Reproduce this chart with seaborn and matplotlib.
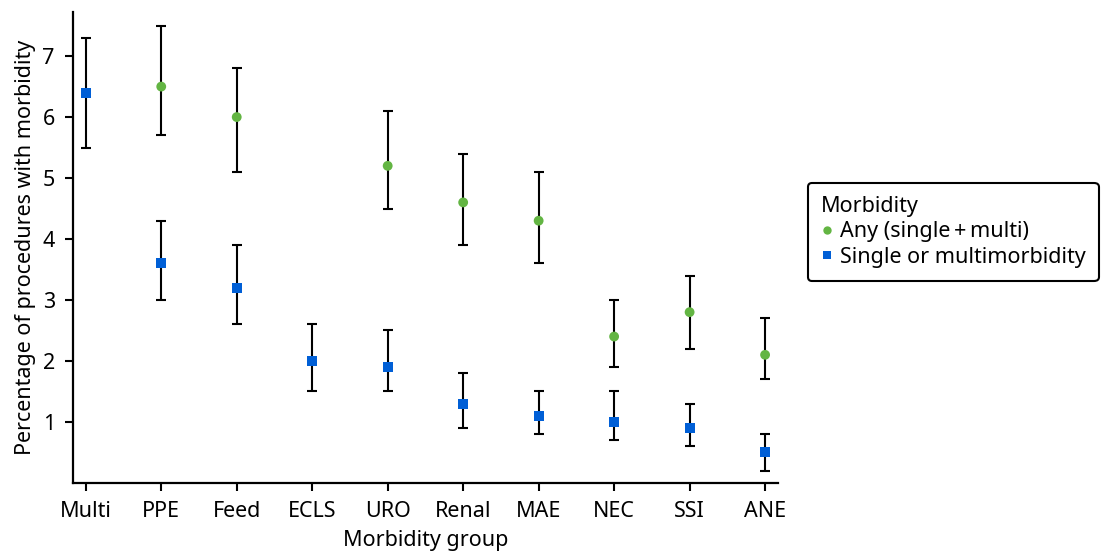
import matplotlib
matplotlib.use("Agg")
import matplotlib.pyplot as plt
import seaborn as sns
import pandas as pd

groups = ["Multi", "PPE", "Feed", "ECLS", "URO", "Renal", "MAE", "NEC", "SSI", "ANE"]

# Any morbidity (single + multi); no estimate for Multi and ECLS
any_groups = ["PPE", "Feed", "URO", "Renal", "MAE", "NEC", "SSI", "ANE"]
any_est = [6.5, 6.0, 5.2, 4.6, 4.3, 2.4, 2.8, 2.1]
any_lo = [5.7, 5.1, 4.5, 3.9, 3.6, 1.9, 2.2, 1.7]
any_hi = [7.5, 6.8, 6.1, 5.4, 5.1, 3.0, 3.4, 2.7]

# Single or multimorbidity
single_groups = ["Multi", "PPE", "Feed", "ECLS", "URO", "Renal", "MAE", "NEC", "SSI", "ANE"]
single_est = [6.4, 3.6, 3.2, 2.0, 1.9, 1.3, 1.1, 1.0, 0.9, 0.5]
single_lo = [5.5, 3.0, 2.6, 1.5, 1.5, 0.9, 0.8, 0.7, 0.6, 0.2]
single_hi = [7.3, 4.3, 3.9, 2.6, 2.5, 1.8, 1.5, 1.5, 1.3, 0.8]

any_label = "Any (single\u2009+\u2009multi)"
single_label = "Single or multimorbidity"

df = pd.concat([
    pd.DataFrame({"group": any_groups, "pct": any_est, "lo": any_lo, "hi": any_hi,
                  "Morbidity": any_label}),
    pd.DataFrame({"group": single_groups, "pct": single_est, "lo": single_lo, "hi": single_hi,
                  "Morbidity": single_label}),
], ignore_index=True)
df["x"] = df["group"].map({g: i for i, g in enumerate(groups)})

sns.set_style("ticks")
plt.rcParams["font.family"] = ["Noto Sans", "DejaVu Sans"]
plt.rcParams["text.color"] = "black"
plt.rcParams["axes.labelcolor"] = "black"

green = "#63b543"
blue = "#005fd6"
fs = 15.5

fig = plt.figure(figsize=(11.05, 5.55), dpi=100)
ax = fig.add_axes([0.066, 0.13, 0.638, 0.848])

# confidence intervals
ax.errorbar(df["x"], df["pct"],
            yerr=[df["pct"] - df["lo"], df["hi"] - df["pct"]],
            fmt="none", ecolor="black", elinewidth=1.5, capsize=3.6, capthick=1.5, zorder=2)

sns.scatterplot(data=df, x="x", y="pct", hue="Morbidity", style="Morbidity",
                hue_order=[any_label, single_label], style_order=[any_label, single_label],
                palette=[green, blue], markers={any_label: "o", single_label: "s"},
                s=50, linewidth=0, ax=ax, zorder=3)

ax.set_xlim(-0.17, 9.17)
ax.set_ylim(0, 7.72)
ax.set_xticks(range(len(groups)))
ax.set_xticklabels(groups)
ax.set_yticks([1, 2, 3, 4, 5, 6, 7])
ax.set_xlabel("Morbidity group", fontsize=fs, labelpad=6)
ax.set_ylabel("Percentage of procedures with morbidity", fontsize=fs, labelpad=5)
ax.tick_params(axis="both", labelsize=fs, length=6, width=1.5, color="black", labelcolor="black")
ax.tick_params(axis="x", pad=7)
ax.tick_params(axis="y", pad=7)
for side in ("left", "bottom"):
    ax.spines[side].set_linewidth(1.6)
    ax.spines[side].set_color("black")
sns.despine(ax=ax)

handles, labels = ax.get_legend_handles_labels()
leg = ax.legend(handles, labels, title="Morbidity", loc="upper left",
                bbox_to_anchor=(0.731, 0.671), bbox_transform=fig.transFigure,
                fontsize=fs, title_fontsize=fs, frameon=True, fancybox=True,
                edgecolor="black", handletextpad=0.3, handlelength=0.6,
                borderpad=0.6, labelspacing=0.22, markerscale=0.85,
                alignment="left", borderaxespad=0)
leg.get_frame().set_linewidth(1.5)
leg.get_frame().set_alpha(1)

fig.savefig("out.png", dpi=100)
